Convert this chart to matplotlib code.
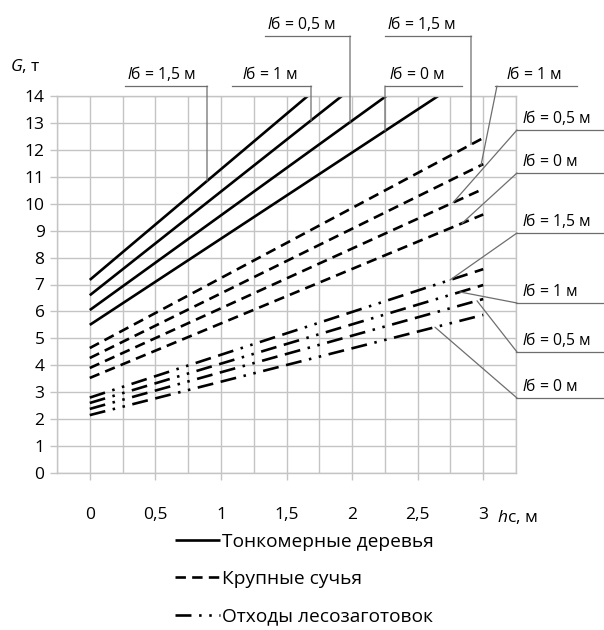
import matplotlib
matplotlib.use('Agg')
import matplotlib.pyplot as plt
import numpy as np
from matplotlib.lines import Line2D
from matplotlib.ticker import MultipleLocator, FixedLocator

plt.rcParams['font.family'] = ['Open Sans', 'DejaVu Sans']
plt.rcParams['mathtext.fontset'] = 'custom'
plt.rcParams['mathtext.it'] = 'Open Sans:italic'
plt.rcParams['mathtext.rm'] = 'Open Sans'
plt.rcParams['lines.scale_dashes'] = False

# data: G (t) vs h_c (m), end points at h_c = 0 and 3, for l_б = 1.5, 1, 0.5, 0 m
h_c = [0, 3]
lb_values = ['1,5', '1', '0,5', '0']
thin_trees = [[7.17, 19.5], [6.6, 18.15], [6.05, 16.6], [5.5, 15.1]]
big_branches = [[4.64, 12.44], [4.27, 11.47], [3.9, 10.55], [3.53, 9.6]]
logging_waste = [[2.8, 7.57], [2.6, 6.98], [2.38, 6.46], [2.15, 5.87]]
legend_labels = ['Тонкомерные деревья', 'Крупные сучья', 'Отходы лесозаготовок']
x_ticks = [0, 0.5, 1, 1.5, 2, 2.5, 3]
x_tick_labels = ['0', '0,5', '1', '1,5', '2', '2,5', '3']

W, H = 604, 630
grid_c = '#c4c4c4'
lead_c = '#6e6e6e'
lw = 1.9

fig = plt.figure(figsize=(W / 100, H / 100), dpi=100)
ax = fig.add_axes([57 / W, 1 - 473 / H, (516 - 57) / W, (473 - 96) / H])

# long dash, dot, dot, long dash ... (starts at the second dash)
dd_pattern = (11.5, 5.5, 11.5, 5.5, 1.8, 5.5, 1.8, 5.5)
styles = [
    dict(linestyle='-'),
    dict(linestyle=(0, (7.5, 4.5))),
    dict(linestyle=(17.0, dd_pattern)),
]
groups = [thin_trees, big_branches, logging_waste]
handles = []
for series, st in zip(groups, styles):
    for i, y in enumerate(series):
        ln, = ax.plot(h_c, y, color='black', lw=lw, solid_capstyle='butt',
                      dash_capstyle='butt', **st)
    handles.append(ln)

ax.set_xlim(-0.25, 3.25)
ax.set_ylim(0, 14)
ax.xaxis.set_major_locator(FixedLocator(x_ticks))
ax.set_xticklabels(x_tick_labels)
ax.xaxis.set_minor_locator(MultipleLocator(0.25))
ax.yaxis.set_major_locator(MultipleLocator(1))
ax.grid(True, which='both', color=grid_c, lw=1.0)
ax.set_axisbelow(True)
for s in ax.spines.values():
    s.set_color(grid_c)
    s.set_linewidth(1.0)
ax.tick_params(axis='both', which='major', color=grid_c, length=5, width=1.0,
               labelsize=12.5, pad=4)
ax.tick_params(axis='x', which='minor', length=0)
ax.tick_params(axis='x', pad=19.5)

fig.text(10 / W, 1 - 66 / H, '$G$, т', fontsize=12.5, va='center', ha='left')
fig.text(497 / W, 1 - 517 / H, '$h$с, м', fontsize=12.5, va='center', ha='left')


def to_data_x(px):
    return ax.transData.inverted().transform((px, H - 300))[0]


def label(text, tx, uy, u0, u1, start, series, target_px):
    fig.text(tx / W, 1 - (uy - 3) / H, '$l$б = ' + text + ' м', fontsize=11.3,
             ha='left', va='bottom')
    fig.add_artist(Line2D([u0 / W, u1 / W], [1 - uy / H, 1 - uy / H],
                          color=lead_c, lw=0.9))
    xd = to_data_x(target_px)
    yd = np.interp(xd, h_c, series)
    ax.annotate('', xy=(xd, yd), xycoords='data',
                xytext=(start[0], H - start[1]), textcoords='figure pixels',
                arrowprops=dict(arrowstyle='-', color=lead_c, lw=0.9,
                                shrinkA=0, shrinkB=0), annotation_clip=False)


# thin trees
label(lb_values[0], 127, 86, 125, 207, (207, 86), thin_trees[0], 207)
label(lb_values[1], 242, 86, 232, 311, (311, 86), thin_trees[1], 311)
label(lb_values[2], 267, 36, 265, 350, (350, 36), thin_trees[2], 350)
label(lb_values[3], 389, 86, 385, 462, (385, 86), thin_trees[3], 385)
# big branches
label(lb_values[0], 387, 36, 385, 471, (471, 36), big_branches[0], 471)
label(lb_values[1], 506, 86, 495, 577, (497, 86), big_branches[1], 481)
label(lb_values[2], 522, 130, 516, 603, (517, 130), big_branches[2], 453)
label(lb_values[3], 522, 173, 516, 603, (517, 173), big_branches[3], 462)
# logging waste
label(lb_values[0], 522, 233, 516, 603, (517, 233), logging_waste[0], 450)
label(lb_values[1], 522, 303, 516, 603, (517, 303), logging_waste[1], 460)
label(lb_values[2], 522, 352, 516, 603, (517, 352), logging_waste[2], 477)
label(lb_values[3], 522, 398, 516, 603, (517, 398), logging_waste[3], 435)

fs = 13.8
fpx = fs * 100 / 72
fig.legend(handles, legend_labels, loc='upper left',
           bbox_to_anchor=(175 / W, 1 - 533 / H), frameon=False, fontsize=fs,
           handlelength=45 / fpx, handletextpad=0.1,
           labelspacing=1.0, borderpad=0, borderaxespad=0)

fig.savefig('out.png', dpi=100)
